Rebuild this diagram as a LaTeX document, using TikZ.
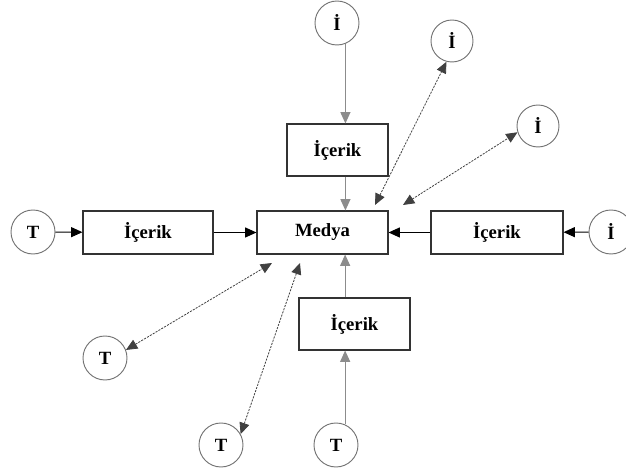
\documentclass[tikz,border=0pt]{standalone}
\usepackage{fontspec}
\setmainfont{Liberation Serif}
\usetikzlibrary{arrows.meta}
\begin{document}
\begin{tikzpicture}[x=0.75pt,y=-0.75pt,
  box/.style={draw=black!80,line width=0.8pt,rectangle,inner sep=0pt,font=\fontsize{14}{15}\selectfont\bfseries},
  circ/.style={draw=black!55,line width=0.7pt,circle,inner sep=0pt,minimum size=33pt,font=\fontsize{14}{15}\selectfont\bfseries},
  tip/.style={-{Triangle[length=8.5pt,width=7.5pt]}},
  both/.style={{Triangle[length=8.5pt,width=7.5pt]}-{Triangle[length=8.5pt,width=7.5pt]},draw=black!75,line width=0.6pt,dash pattern=on 1.6pt off 0.9pt},
  grayline/.style={tip,draw=black!45,line width=0.8pt},
  blackline/.style={tip,draw=black,line width=0.8pt}]
\useasboundingbox (0,0) rectangle (626,473);
% boxes
\node[box,minimum width=75.75pt,minimum height=39pt] (b1) at (337.5,150) {İçerik};
\node[box,minimum width=98.25pt,minimum height=32.25pt] (med) at (322.5,232.5) {Medya};
\node[box,minimum width=97.5pt,minimum height=32.25pt] (bl) at (148,232.5) {İçerik};
\node[box,minimum width=99pt,minimum height=32.25pt] (br) at (497,232.5) {İçerik};
\node[box,minimum width=83.25pt,minimum height=39pt] (bb) at (354.5,324) {İçerik};
% circles
\node[circ] (c1) at (337,23) {İ};
\node[circ,minimum size=31.5pt] (c2) at (452,41) {İ};
\node[circ,minimum size=31.5pt] (c3) at (538,126) {İ};
\node[circ] (c4) at (611,232) {İ};
\node[circ] (t1) at (33,232) {T};
\node[circ] (t2) at (105,358) {T};
\node[circ] (t3) at (221,445) {T};
\node[circ] (t4) at (336,445) {T};
% free ends
\coordinate (m1) at (272,263);
\coordinate (m2) at (300,263);
\coordinate (m3) at (375,205);
\coordinate (m4) at (403,205);
% straight arrows
\draw[grayline] (c1.-68) -- (c1.-68 |- b1.north);
\draw[grayline] (b1.south -| c1.-68) -- (med.north -| c1.-68);
\draw[blackline] (t1) -- (bl);
\draw[blackline] (bl) -- (med);
\draw[blackline] (br) -- (med);
\draw[blackline] (c4) -- (br);
\draw[grayline] (bb.north -| t4.66) -- (med.south -| t4.66);
\draw[grayline] (t4.66) -- (t4.66 |- bb.south);
% diagonal double arrows
\draw[both] (t2.21) -- (m1);
\draw[both] (t3.29) -- (m2);
\draw[both] (m3) -- (c2.-105);
\draw[both] (m4) -- (c3.-163);
\end{tikzpicture}
\end{document}
